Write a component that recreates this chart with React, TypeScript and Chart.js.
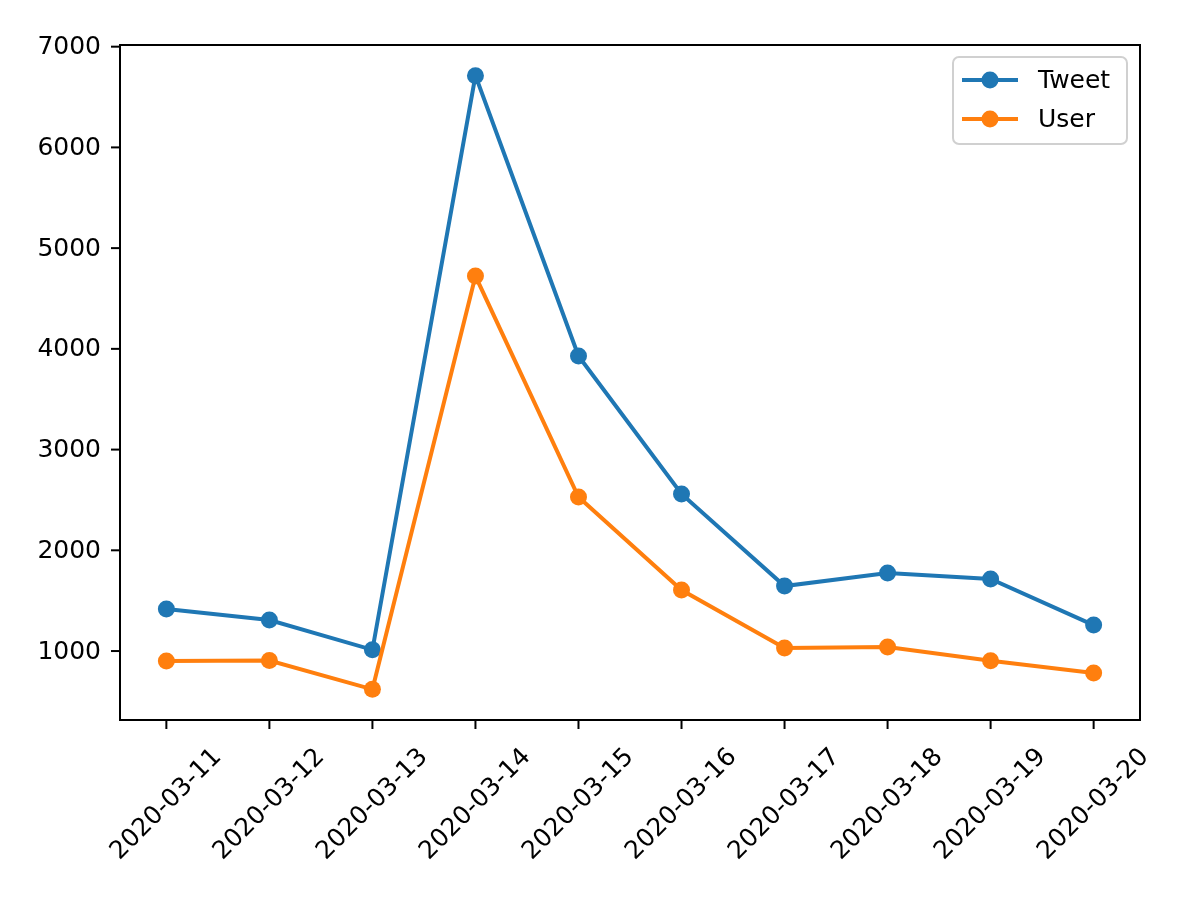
import React, { useEffect, useRef } from "react";
import { Chart, registerables } from "chart.js";

Chart.register(...registerables);

const dates = [
  "2020-03-11", "2020-03-12", "2020-03-13", "2020-03-14", "2020-03-15",
  "2020-03-16", "2020-03-17", "2020-03-18", "2020-03-19", "2020-03-20",
];
const tweetValues = [1417, 1308, 1012, 6712, 3929, 2559, 1645, 1774, 1715, 1258];
const userValues = [901, 905, 620, 4723, 2529, 1606, 1030, 1040, 903, 782];
const yTickValues = [1000, 2000, 3000, 4000, 5000, 6000, 7000];

const BLUE = "#1f77b4";
const ORANGE = "#ff7f0e";
const FONT = '25px "DejaVu Sans", sans-serif';

const all = [...tweetValues, ...userValues];
const dMin = Math.min(...all);
const dMax = Math.max(...all);
const yMin = dMin - 0.05 * (dMax - dMin);
const yMax = dMax + 0.05 * (dMax - dMin);
const xMin = -0.05 * (dates.length - 1);
const xMax = dates.length - 1 + 0.05 * (dates.length - 1);

const decorPlugin = {
  id: "decor",
  afterDraw(chart: any) {
    const ctx = chart.ctx as CanvasRenderingContext2D;
    const a = chart.chartArea;
    const xs = chart.scales.x;
    const ys = chart.scales.y;
    ctx.save();
    // spines
    ctx.strokeStyle = "#000";
    ctx.lineWidth = 2;
    ctx.strokeRect(a.left, a.top, a.right - a.left, a.bottom - a.top);
    // y ticks and labels
    ctx.font = FONT;
    ctx.fillStyle = "#000";
    ctx.textAlign = "right";
    ctx.textBaseline = "middle";
    yTickValues.forEach((v) => {
      const y = ys.getPixelForValue(v);
      ctx.beginPath();
      ctx.moveTo(a.left - 9, y);
      ctx.lineTo(a.left, y);
      ctx.stroke();
      ctx.fillText(String(v), a.left - 19, y + 1);
    });
    // x ticks and rotated labels
    dates.forEach((lab, i) => {
      const x = xs.getPixelForValue(i);
      ctx.beginPath();
      ctx.moveTo(x, a.bottom);
      ctx.lineTo(x, a.bottom + 9);
      ctx.stroke();
      const w = ctx.measureText(lab).width;
      const h = 29;
      const half = (w + h) / (2 * Math.SQRT2);
      const cy = a.bottom + 9 + 14 + half;
      ctx.save();
      ctx.translate(x, cy);
      ctx.rotate(-Math.PI / 4);
      ctx.textAlign = "center";
      ctx.textBaseline = "middle";
      ctx.fillText(lab, 0, 0);
      ctx.restore();
    });
    // legend
    const lx = 953, ly = 57, lw = 174, lh = 87, r = 6;
    ctx.beginPath();
    ctx.moveTo(lx + r, ly);
    ctx.lineTo(lx + lw - r, ly);
    ctx.arcTo(lx + lw, ly, lx + lw, ly + r, r);
    ctx.lineTo(lx + lw, ly + lh - r);
    ctx.arcTo(lx + lw, ly + lh, lx + lw - r, ly + lh, r);
    ctx.lineTo(lx + r, ly + lh);
    ctx.arcTo(lx, ly + lh, lx, ly + lh - r, r);
    ctx.lineTo(lx, ly + r);
    ctx.arcTo(lx, ly, lx + r, ly, r);
    ctx.closePath();
    ctx.fillStyle = "rgba(255,255,255,0.8)";
    ctx.fill();
    ctx.strokeStyle = "#d0d0d0";
    ctx.lineWidth = 2;
    ctx.stroke();
    const entries = [
      { label: "Tweet", color: BLUE, y: 80 },
      { label: "User", color: ORANGE, y: 119 },
    ];
    entries.forEach((e) => {
      ctx.strokeStyle = e.color;
      ctx.lineWidth = 4;
      ctx.beginPath();
      ctx.moveTo(962, e.y);
      ctx.lineTo(1018, e.y);
      ctx.stroke();
      ctx.fillStyle = e.color;
      ctx.beginPath();
      ctx.arc(990, e.y, 8.5, 0, Math.PI * 2);
      ctx.fill();
      ctx.fillStyle = "#000";
      ctx.textAlign = "left";
      ctx.textBaseline = "middle";
      ctx.font = FONT;
      ctx.fillText(e.label, 1038, e.y + 1);
    });
    ctx.restore();
  },
};

export default function App() {
  const ref = useRef<HTMLCanvasElement | null>(null);
  useEffect(() => {
    if (!ref.current) return;
    const chart = new Chart(ref.current, {
      type: "line",
      data: {
        datasets: [
          {
            label: "Tweet",
            data: tweetValues.map((v, i) => ({ x: i, y: v })),
            borderColor: BLUE,
            backgroundColor: BLUE,
            borderWidth: 4,
            pointRadius: 8.5,
            pointBorderWidth: 0,
            pointBackgroundColor: BLUE,
            tension: 0,
            order: 1,
          },
          {
            label: "User",
            data: userValues.map((v, i) => ({ x: i, y: v })),
            borderColor: ORANGE,
            backgroundColor: ORANGE,
            borderWidth: 4,
            pointRadius: 8.5,
            pointBorderWidth: 0,
            pointBackgroundColor: ORANGE,
            tension: 0,
            order: 0,
          },
        ],
      },
      options: {
        responsive: false,
        animation: false,
        layout: { padding: { top: 45, right: 60, left: 0, bottom: 0 } },
        plugins: { legend: { display: false }, tooltip: { enabled: false } },
        scales: {
          x: {
            type: "linear",
            min: xMin,
            max: xMax,
            grid: { display: false },
            border: { display: false },
            ticks: { display: false },
            afterFit: (s: any) => { s.height = 180; },
          },
          y: {
            type: "linear",
            min: yMin,
            max: yMax,
            grid: { display: false },
            border: { display: false },
            ticks: { display: false },
            afterFit: (s: any) => { s.width = 120; },
          },
        },
      },
      plugins: [decorPlugin],
    });
    return () => chart.destroy();
  }, []);
  return (
    <div style={{ position: "absolute", left: 0, top: 0, width: 1200, height: 900, background: "#fff" }}>
      <canvas ref={ref} width={1200} height={900} />
    </div>
  );
}
